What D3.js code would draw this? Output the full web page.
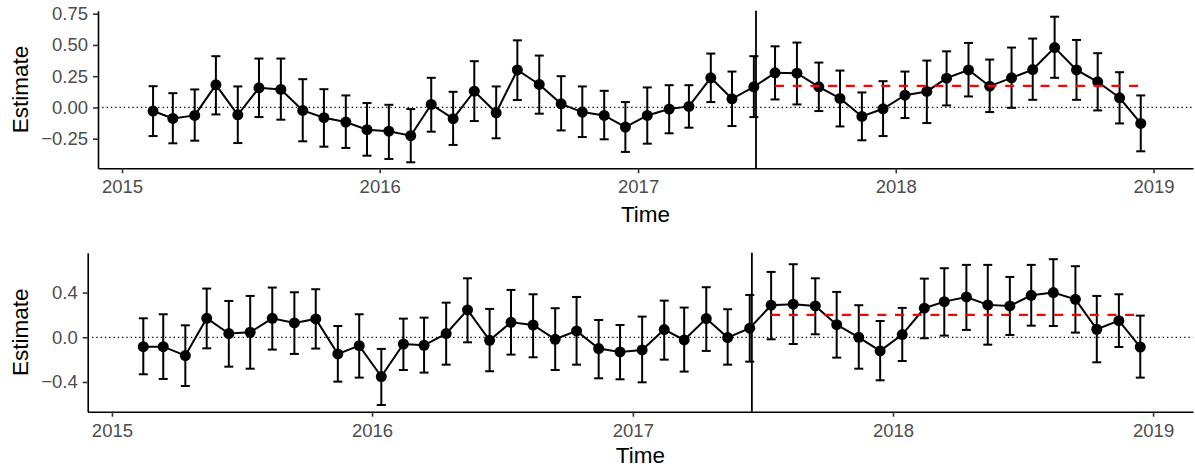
<!DOCTYPE html>
<html>
<head>
<meta charset="utf-8">
<script src="https://cdn.jsdelivr.net/npm/d3@7"></script>
<style>
  body { margin: 0; background: #fff; }
  svg { display: block; font-family: "Liberation Sans", Arial, Helvetica, sans-serif; }
</style>
</head>
<body>
<div id="chart"></div>
<script>
// monthly estimates, Feb 2015 - Dec 2018
const months = [
    "2015-02","2015-03","2015-04","2015-05","2015-06","2015-07","2015-08","2015-09","2015-10","2015-11","2015-12",
    "2016-01","2016-02","2016-03","2016-04","2016-05","2016-06","2016-07","2016-08","2016-09","2016-10","2016-11","2016-12",
    "2017-01","2017-02","2017-03","2017-04","2017-05","2017-06","2017-07","2017-08","2017-09","2017-10","2017-11","2017-12",
    "2018-01","2018-02","2018-03","2018-04","2018-05","2018-06","2018-07","2018-08","2018-09","2018-10","2018-11","2018-12"
];

const topEst = [-0.029, -0.088, -0.064, 0.181, -0.059, 0.157, 0.144, -0.024, -0.082, -0.117, -0.178, -0.19,
    -0.226, 0.024, -0.09, 0.13, -0.043, 0.30, 0.184, 0.029, -0.037, -0.064, -0.157, -0.064,
    -0.013, 0.008, 0.237, 0.069, 0.165, 0.277, 0.274, 0.165, 0.072, -0.072, -0.011, 0.098,
    0.128, 0.234, 0.30, 0.17, 0.237, 0.303, 0.479, 0.30, 0.205, 0.077, -0.128];
const topLow = [-0.229, -0.287, -0.266, -0.056, -0.285, -0.077, -0.098, -0.271, -0.314, -0.324, -0.386, -0.412,
    -0.439, -0.194, -0.30, -0.109, -0.247, 0.059, -0.05, -0.184, -0.237, -0.255, -0.356, -0.29,
    -0.207, -0.162, 0.043, -0.149, -0.077, 0.064, 0.024, -0.029, -0.152, -0.263, -0.229, -0.085,
    -0.125, 0.016, 0.088, -0.037, -0.003, 0.061, 0.237, 0.061, -0.024, -0.128, -0.351];
const topHigh = [0.17, 0.114, 0.144, 0.41, 0.168, 0.391, 0.391, 0.226, 0.146, 0.096, 0.035, 0.021,
    -0.013, 0.237, 0.125, 0.37, 0.168, 0.537, 0.415, 0.25, 0.168, 0.133, 0.043, 0.16,
    0.178, 0.178, 0.431, 0.287, 0.41, 0.489, 0.519, 0.359, 0.295, 0.12, 0.21, 0.287,
    0.375, 0.449, 0.516, 0.383, 0.479, 0.551, 0.726, 0.54, 0.434, 0.282, 0.096];

const botEst = [-0.084, -0.084, -0.164, 0.170, 0.033, 0.045, 0.170, 0.128, 0.164, -0.149, -0.075, -0.352,
    -0.060, -0.072, 0.033, 0.245, -0.027, 0.134, 0.110, -0.018, 0.057, -0.101, -0.131, -0.113,
    0.069, -0.024, 0.167, -0.003, 0.081, 0.287, 0.296, 0.281, 0.113, 0.0, -0.122, 0.024,
    0.260, 0.319, 0.361, 0.290, 0.281, 0.376, 0.400, 0.340, 0.072, 0.149, -0.087];
const botLow = [-0.331, -0.373, -0.436, -0.099, -0.263, -0.281, -0.110, -0.149, -0.101, -0.397, -0.361, -0.606,
    -0.293, -0.316, -0.245, -0.045, -0.304, -0.155, -0.179, -0.293, -0.245, -0.367, -0.376, -0.403,
    -0.200, -0.307, -0.122, -0.245, -0.218, -0.018, -0.060, 0.027, -0.182, -0.281, -0.385, -0.212,
    -0.009, 0.015, 0.066, -0.066, 0.021, 0.104, 0.101, 0.042, -0.224, -0.087, -0.361];
const botHigh = [0.170, 0.206, 0.107, 0.436, 0.325, 0.370, 0.445, 0.403, 0.430, 0.101, 0.206, -0.104,
    0.167, 0.176, 0.310, 0.528, 0.254, 0.424, 0.385, 0.260, 0.361, 0.155, 0.110, 0.185,
    0.328, 0.266, 0.448, 0.251, 0.379, 0.585, 0.654, 0.528, 0.406, 0.287, 0.146, 0.263,
    0.525, 0.618, 0.648, 0.648, 0.540, 0.648, 0.699, 0.636, 0.370, 0.385, 0.194];

// post-period mean (red dashed) and intervention date
const topMean = 0.173;
const botMean = 0.200;
const interventionDate = "2017-06-17";
const postStart = "2017-07";
const postEnd = "2018-12";

const topYTicks = [-0.25, 0, 0.25, 0.5, 0.75];
const botYTicks = [-0.4, 0, 0.4];
const xTickYears = [2015, 2016, 2017, 2018, 2019];

const width = 1195;
const height = 470;

const parseMonth = d3.timeParse("%Y-%m-%d");
const toDate = m => parseMonth(m + "-14");

const svg = d3.select("#chart")
    .append("svg")
    .attr("width", width)
    .attr("height", height);

const minus = s => s.replace("-", "\u2212");

function drawPanel(opts) {
    const data = months.map((m, i) => ({
        date: toDate(m),
        est: opts.est[i],
        low: opts.low[i],
        high: opts.high[i]
    }));

    const x = d3.scaleTime()
        .domain([new Date(2014, 10, 28), new Date(2019, 1, 26)])
        .range([opts.left, opts.right]);

    const y = d3.scaleLinear()
        .domain(opts.yDomain)
        .range([opts.bottom, opts.top]);

    const g = svg.append("g");

    // zero reference
    g.append("line")
        .attr("x1", opts.left).attr("x2", opts.right)
        .attr("y1", y(0)).attr("y2", y(0))
        .attr("stroke", "#000")
        .attr("stroke-width", 1.3)
        .attr("stroke-dasharray", "1.3,3");

    // intervention line
    const vx = x(parseMonth(interventionDate));
    g.append("line")
        .attr("x1", vx).attr("x2", vx)
        .attr("y1", opts.top).attr("y2", opts.bottom)
        .attr("stroke", "#000")
        .attr("stroke-width", 1.8);

    // error bars
    const eb = g.append("g")
        .attr("stroke", "#000")
        .attr("stroke-width", 2)
        .attr("fill", "none");

    eb.selectAll(".ebv")
        .data(data)
        .enter()
        .append("line")
        .attr("x1", d => x(d.date)).attr("x2", d => x(d.date))
        .attr("y1", d => y(d.low)).attr("y2", d => y(d.high));

    ["low", "high"].forEach(k => {
        eb.selectAll(".cap-" + k)
            .data(data)
            .enter()
            .append("line")
            .attr("x1", d => x(d.date) - 4.5).attr("x2", d => x(d.date) + 4.5)
            .attr("y1", d => y(d[k])).attr("y2", d => y(d[k]));
    });

    // line + points
    g.append("path")
        .datum(data)
        .attr("fill", "none")
        .attr("stroke", "#000")
        .attr("stroke-width", 2)
        .attr("d", d3.line().x(d => x(d.date)).y(d => y(d.est)));

    g.selectAll("circle")
        .data(data)
        .enter()
        .append("circle")
        .attr("cx", d => x(d.date))
        .attr("cy", d => y(d.est))
        .attr("r", 5.5)
        .attr("fill", "#000");

    // post-period mean
    g.append("line")
        .attr("x1", x(toDate(postStart))).attr("x2", x(toDate(postEnd)))
        .attr("y1", y(opts.mean)).attr("y2", y(opts.mean))
        .attr("stroke", "#FF0000")
        .attr("stroke-width", 2.3)
        .attr("stroke-dasharray", "9,8.7");

    // axes
    const xAxis = d3.axisBottom(x)
        .tickValues(xTickYears.map(yr => new Date(yr, 0, 1)))
        .tickFormat(d3.timeFormat("%Y"))
        .tickSize(5)
        .tickPadding(7)
        .tickSizeOuter(0);

    const gx = g.append("g")
        .attr("transform", `translate(0,${opts.bottom})`)
        .call(xAxis);

    const yAxis = d3.axisLeft(y)
        .tickValues(opts.yTicks)
        .tickFormat(d => minus(d3.format(opts.yFormat)(d)))
        .tickSize(5)
        .tickPadding(5)
        .tickSizeOuter(0);

    const gy = g.append("g")
        .attr("transform", `translate(${opts.left},0)`)
        .call(yAxis);

    [gx, gy].forEach(a => {
        a.select(".domain")
            .attr("stroke", "#000")
            .attr("stroke-width", 1.6);
        a.selectAll(".tick line")
            .attr("stroke", "#333")
            .attr("stroke-width", 1.6);
        a.selectAll(".tick text")
            .attr("fill", "#4D4D4D")
            .attr("font-size", "18.5px")
            .attr("font-family", "Liberation Sans, Arial, sans-serif");
    });

    // titles
    g.append("text")
        .attr("x", (opts.left + opts.right) / 2)
        .attr("y", opts.xTitleY)
        .attr("text-anchor", "middle")
        .attr("font-size", "22.5px")
        .attr("fill", "#000")
        .text("Time");

    g.append("text")
        .attr("transform", `translate(27.5,${(opts.top + opts.bottom) / 2}) rotate(-90)`)
        .attr("text-anchor", "middle")
        .attr("font-size", "22.5px")
        .attr("fill", "#000")
        .text("Estimate");
}

drawPanel({
    est: topEst, low: topLow, high: topHigh, mean: topMean,
    yDomain: [-0.487, 0.774], yTicks: topYTicks, yFormat: ".2f",
    left: 98, right: 1193, top: 10.7, bottom: 168.3, xTitleY: 221.7
});

drawPanel({
    est: botEst, low: botLow, high: botHigh, mean: botMean,
    yDomain: [-0.666, 0.757], yTicks: botYTicks, yFormat: ".1f",
    left: 87.7, right: 1193, top: 252.7, bottom: 411.7, xTitleY: 463.3
});
</script>
</body>
</html>
